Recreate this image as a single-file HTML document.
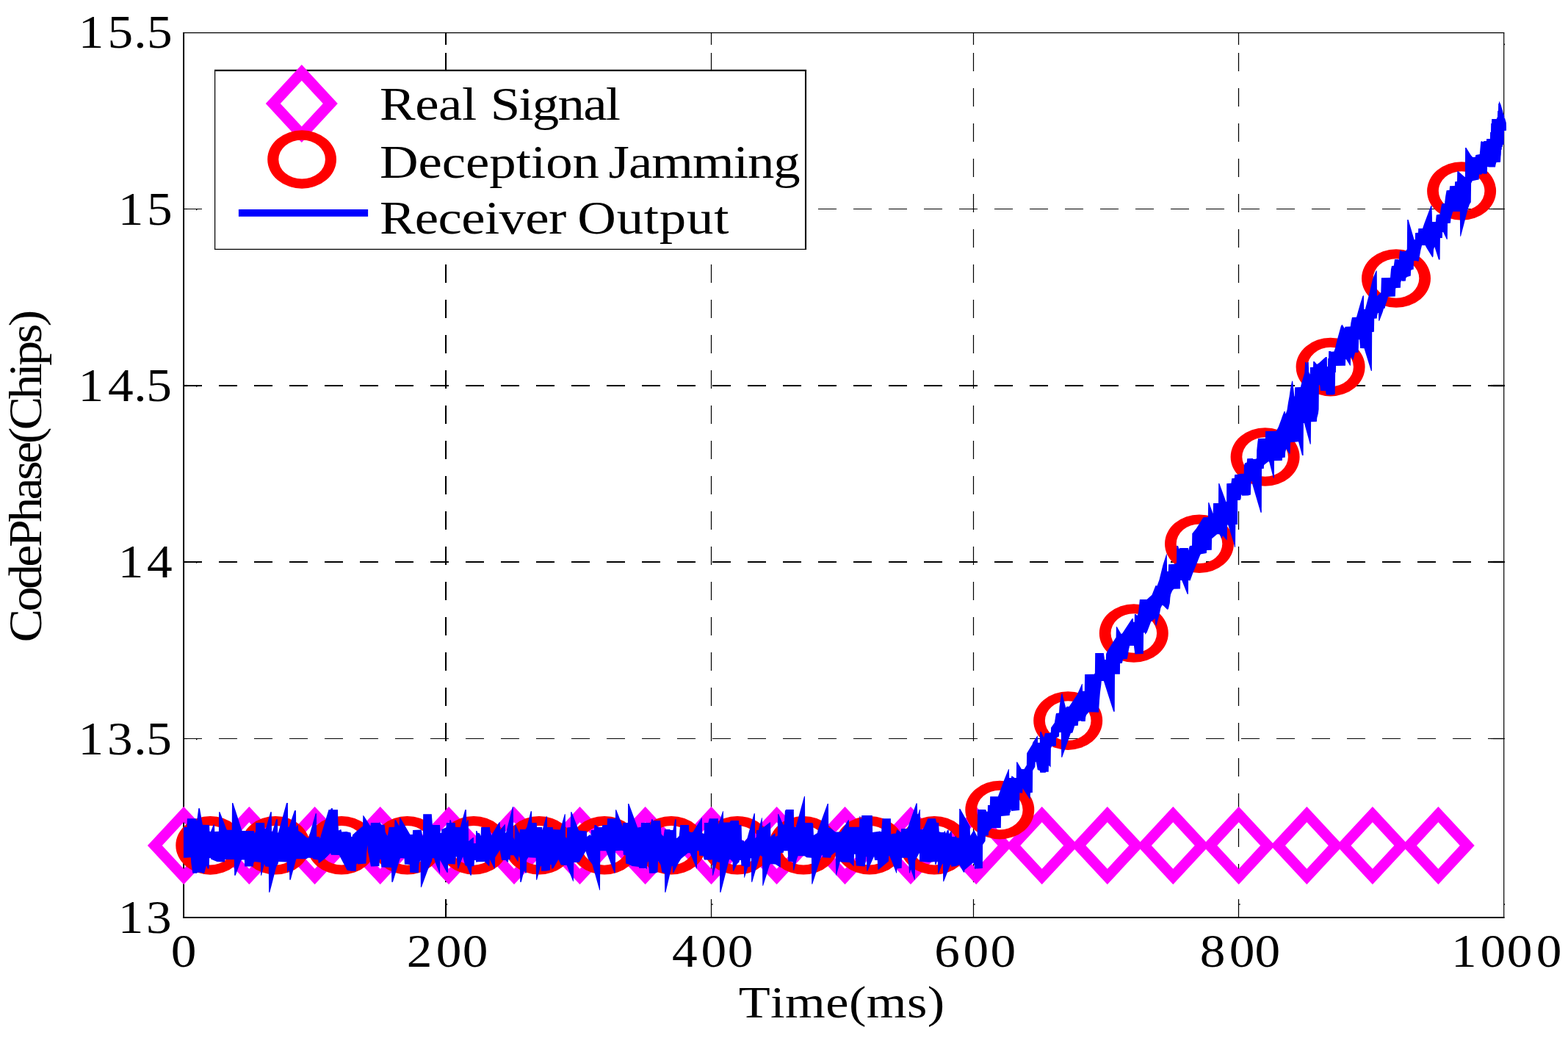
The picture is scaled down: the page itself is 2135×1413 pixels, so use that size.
<!DOCTYPE html>
<html lang="en"><head><meta charset="utf-8"><title>Code phase tracking under deception jamming</title>
<style>html,body{margin:0;padding:0;background:#fff}body{width:2135px;height:1413px;overflow:hidden}svg{display:block}text{font-family:"Liberation Serif",serif;fill:#000}</style></head><body>
<svg width="2135" height="1413" viewBox="0 0 2135 1413">
<rect width="2135" height="1413" fill="#fff"/>
<g stroke="#000" fill="none">
<path d="M607.05 44.55V61" stroke-width="2.1"/>
<path d="M607.05 72V1249.0" stroke-width="2.1" stroke-dasharray="25 23"/>
<path d="M968.5 44.55V61" stroke-width="1.2"/>
<path d="M968.5 72V1249.0" stroke-width="1.2" stroke-dasharray="25 23"/>
<path d="M1325.5 44.55V61" stroke-width="1.2"/>
<path d="M1325.5 72V1249.0" stroke-width="1.2" stroke-dasharray="25 23"/>
<path d="M1686.5 44.55V61" stroke-width="1.25"/>
<path d="M1686.5 72V1249.0" stroke-width="1.25" stroke-dasharray="25 23"/>
<path d="M250 284.5H2047.7" stroke-width="1.2" stroke-dasharray="25 23"/>
<path d="M2029.7 284.5H2048.9" stroke-width="1.2"/>
<path d="M250 525.0H2047.7" stroke-width="2.2" stroke-dasharray="25 23"/>
<path d="M2029.7 525.0H2048.9" stroke-width="2.2"/>
<path d="M250 765.0H2047.7" stroke-width="2.2" stroke-dasharray="25 23"/>
<path d="M2029.7 765.0H2048.9" stroke-width="2.2"/>
<path d="M250 1005.5H2047.7" stroke-width="1.2" stroke-dasharray="25 23"/>
<path d="M2029.7 1005.5H2048.9" stroke-width="1.2"/>
<rect x="607.75" y="1230.3" width="1.4" height="1.6" fill="#000" stroke="none"/>
<rect x="969.20" y="1230.3" width="1.4" height="1.6" fill="#000" stroke="none"/>
<rect x="1326.20" y="1230.3" width="1.4" height="1.6" fill="#000" stroke="none"/>
<rect x="1687.20" y="1230.3" width="1.4" height="1.6" fill="#000" stroke="none"/>
<rect x="267.0" y="284.90" width="1.4" height="1.3" fill="#000" stroke="none"/>
<rect x="267.0" y="525.40" width="1.4" height="1.3" fill="#000" stroke="none"/>
<rect x="267.0" y="765.40" width="1.4" height="1.3" fill="#000" stroke="none"/>
<rect x="267.0" y="1005.90" width="1.4" height="1.3" fill="#000" stroke="none"/>
<rect x="2047.9" y="1230.3" width="1.2" height="1.6" fill="#000" stroke="none"/>
<rect x="2047.9" y="59.6" width="1.2" height="1.6" fill="#000" stroke="none"/>
</g>
<g stroke="#000" fill="none">
<path d="M249.1 44.55H2048.3" stroke-width="1.2"/>
<path d="M2047.7 44.55V1250.0" stroke-width="1.2"/>
<path d="M250.1 43.949999999999996V1250.0" stroke-width="1.9"/>
<path d="M249.2 1249.0H2048.5" stroke-width="2.1"/>
</g>
<g fill="#f0f" fill-rule="evenodd">
<path d="M200.9 1151.0L250.2 1098.0L299.5 1151.0L250.2 1204.0ZM220.8 1151.0L250.2 1182.8L279.6 1151.0L250.2 1119.2Z"/>
<path d="M290.0 1151.0L339.3 1098.0L388.6 1151.0L339.3 1204.0ZM309.9 1151.0L339.3 1182.8L368.7 1151.0L339.3 1119.2Z"/>
<path d="M379.3 1151.0L428.6 1098.0L477.9 1151.0L428.6 1204.0ZM399.2 1151.0L428.6 1182.8L458.0 1151.0L428.6 1119.2Z"/>
<path d="M468.4 1151.0L517.7 1098.0L567.0 1151.0L517.7 1204.0ZM488.3 1151.0L517.7 1182.8L547.1 1151.0L517.7 1119.2Z"/>
<path d="M561.7 1151.0L611.0 1098.0L660.3 1151.0L611.0 1204.0ZM581.6 1151.0L611.0 1182.8L640.4 1151.0L611.0 1119.2Z"/>
<path d="M650.7 1151.0L700.0 1098.0L749.3 1151.0L700.0 1204.0ZM670.6 1151.0L700.0 1182.8L729.4 1151.0L700.0 1119.2Z"/>
<path d="M740.2 1151.0L789.5 1098.0L838.8 1151.0L789.5 1204.0ZM760.1 1151.0L789.5 1182.8L818.9 1151.0L789.5 1119.2Z"/>
<path d="M829.3 1151.0L878.6 1098.0L927.9 1151.0L878.6 1204.0ZM849.2 1151.0L878.6 1182.8L908.0 1151.0L878.6 1119.2Z"/>
<path d="M919.2 1151.0L968.5 1098.0L1017.8 1151.0L968.5 1204.0ZM939.1 1151.0L968.5 1182.8L997.9 1151.0L968.5 1119.2Z"/>
<path d="M1008.3 1151.0L1057.6 1098.0L1106.9 1151.0L1057.6 1204.0ZM1028.2 1151.0L1057.6 1182.8L1087.0 1151.0L1057.6 1119.2Z"/>
<path d="M1101.2 1151.0L1150.5 1098.0L1199.8 1151.0L1150.5 1204.0ZM1121.1 1151.0L1150.5 1182.8L1179.9 1151.0L1150.5 1119.2Z"/>
<path d="M1190.7 1151.0L1240.0 1098.0L1289.3 1151.0L1240.0 1204.0ZM1210.6 1151.0L1240.0 1182.8L1269.4 1151.0L1240.0 1119.2Z"/>
<path d="M1279.9 1151.0L1329.2 1098.0L1378.5 1151.0L1329.2 1204.0ZM1299.8 1151.0L1329.2 1182.8L1358.6 1151.0L1329.2 1119.2Z"/>
<path d="M1369.4 1151.0L1418.7 1098.0L1468.0 1151.0L1418.7 1204.0ZM1389.3 1151.0L1418.7 1182.8L1448.1 1151.0L1418.7 1119.2Z"/>
<path d="M1458.5 1151.0L1507.8 1098.0L1557.1 1151.0L1507.8 1204.0ZM1478.4 1151.0L1507.8 1182.8L1537.2 1151.0L1507.8 1119.2Z"/>
<path d="M1548.0 1151.0L1597.3 1098.0L1646.6 1151.0L1597.3 1204.0ZM1567.9 1151.0L1597.3 1182.8L1626.7 1151.0L1597.3 1119.2Z"/>
<path d="M1637.4 1151.0L1686.7 1098.0L1736.0 1151.0L1686.7 1204.0ZM1657.3 1151.0L1686.7 1182.8L1716.1 1151.0L1686.7 1119.2Z"/>
<path d="M1730.1 1151.0L1779.4 1098.0L1828.7 1151.0L1779.4 1204.0ZM1750.0 1151.0L1779.4 1182.8L1808.8 1151.0L1779.4 1119.2Z"/>
<path d="M1819.6 1151.0L1868.9 1098.0L1918.2 1151.0L1868.9 1204.0ZM1839.5 1151.0L1868.9 1182.8L1898.3 1151.0L1868.9 1119.2Z"/>
<path d="M1909.1 1151.0L1958.4 1098.0L2007.7 1151.0L1958.4 1204.0ZM1929.0 1151.0L1958.4 1182.8L1987.8 1151.0L1958.4 1119.2Z"/>
</g>
<g fill="#f00" fill-rule="evenodd">
<path d="M239.3 1150.8A47.0 39.8 0 1 1 333.3 1150.8A47.0 39.8 0 1 1 239.3 1150.8ZM255.0 1150.8A31.3 26.8 0 1 0 317.6 1150.8A31.3 26.8 0 1 0 255.0 1150.8Z"/>
<path d="M328.0 1150.8A47.0 39.8 0 1 1 422.0 1150.8A47.0 39.8 0 1 1 328.0 1150.8ZM343.7 1150.8A31.3 26.8 0 1 0 406.3 1150.8A31.3 26.8 0 1 0 343.7 1150.8Z"/>
<path d="M418.0 1150.8A47.0 39.8 0 1 1 512.0 1150.8A47.0 39.8 0 1 1 418.0 1150.8ZM433.7 1150.8A31.3 26.8 0 1 0 496.3 1150.8A31.3 26.8 0 1 0 433.7 1150.8Z"/>
<path d="M507.5 1150.8A47.0 39.8 0 1 1 601.5 1150.8A47.0 39.8 0 1 1 507.5 1150.8ZM523.2 1150.8A31.3 26.8 0 1 0 585.8 1150.8A31.3 26.8 0 1 0 523.2 1150.8Z"/>
<path d="M598.0 1150.8A47.0 39.8 0 1 1 692.0 1150.8A47.0 39.8 0 1 1 598.0 1150.8ZM613.7 1150.8A31.3 26.8 0 1 0 676.3 1150.8A31.3 26.8 0 1 0 613.7 1150.8Z"/>
<path d="M687.0 1150.8A47.0 39.8 0 1 1 781.0 1150.8A47.0 39.8 0 1 1 687.0 1150.8ZM702.7 1150.8A31.3 26.8 0 1 0 765.3 1150.8A31.3 26.8 0 1 0 702.7 1150.8Z"/>
<path d="M776.0 1150.8A47.0 39.8 0 1 1 870.0 1150.8A47.0 39.8 0 1 1 776.0 1150.8ZM791.7 1150.8A31.3 26.8 0 1 0 854.3 1150.8A31.3 26.8 0 1 0 791.7 1150.8Z"/>
<path d="M867.0 1150.8A47.0 39.8 0 1 1 961.0 1150.8A47.0 39.8 0 1 1 867.0 1150.8ZM882.7 1150.8A31.3 26.8 0 1 0 945.3 1150.8A31.3 26.8 0 1 0 882.7 1150.8Z"/>
<path d="M957.0 1150.8A47.0 39.8 0 1 1 1051.0 1150.8A47.0 39.8 0 1 1 957.0 1150.8ZM972.7 1150.8A31.3 26.8 0 1 0 1035.3 1150.8A31.3 26.8 0 1 0 972.7 1150.8Z"/>
<path d="M1047.0 1150.8A47.0 39.8 0 1 1 1141.0 1150.8A47.0 39.8 0 1 1 1047.0 1150.8ZM1062.7 1150.8A31.3 26.8 0 1 0 1125.3 1150.8A31.3 26.8 0 1 0 1062.7 1150.8Z"/>
<path d="M1137.0 1150.8A47.0 39.8 0 1 1 1231.0 1150.8A47.0 39.8 0 1 1 1137.0 1150.8ZM1152.7 1150.8A31.3 26.8 0 1 0 1215.3 1150.8A31.3 26.8 0 1 0 1152.7 1150.8Z"/>
<path d="M1225.5 1150.8A47.0 39.8 0 1 1 1319.5 1150.8A47.0 39.8 0 1 1 1225.5 1150.8ZM1241.2 1150.8A31.3 26.8 0 1 0 1303.8 1150.8A31.3 26.8 0 1 0 1241.2 1150.8Z"/>
<path d="M1314.3 1102.6A47.0 39.8 0 1 1 1408.3 1102.6A47.0 39.8 0 1 1 1314.3 1102.6ZM1330.0 1102.6A31.3 26.8 0 1 0 1392.6 1102.6A31.3 26.8 0 1 0 1330.0 1102.6Z"/>
<path d="M1407.2 981.1A47.0 39.8 0 1 1 1501.2 981.1A47.0 39.8 0 1 1 1407.2 981.1ZM1422.9 981.1A31.3 26.8 0 1 0 1485.5 981.1A31.3 26.8 0 1 0 1422.9 981.1Z"/>
<path d="M1496.8 862.0A47.0 39.8 0 1 1 1590.8 862.0A47.0 39.8 0 1 1 1496.8 862.0ZM1512.5 862.0A31.3 26.8 0 1 0 1575.1 862.0A31.3 26.8 0 1 0 1512.5 862.0Z"/>
<path d="M1586.0 740.2A47.0 39.8 0 1 1 1680.0 740.2A47.0 39.8 0 1 1 1586.0 740.2ZM1601.7 740.2A31.3 26.8 0 1 0 1664.3 740.2A31.3 26.8 0 1 0 1601.7 740.2Z"/>
<path d="M1675.6 622.0A47.0 39.8 0 1 1 1769.6 622.0A47.0 39.8 0 1 1 1675.6 622.0ZM1691.3 622.0A31.3 26.8 0 1 0 1753.9 622.0A31.3 26.8 0 1 0 1691.3 622.0Z"/>
<path d="M1764.6 499.6A47.0 39.8 0 1 1 1858.6 499.6A47.0 39.8 0 1 1 1764.6 499.6ZM1780.3 499.6A31.3 26.8 0 1 0 1842.9 499.6A31.3 26.8 0 1 0 1780.3 499.6Z"/>
<path d="M1854.0 379.0A47.0 39.8 0 1 1 1948.0 379.0A47.0 39.8 0 1 1 1854.0 379.0ZM1869.7 379.0A31.3 26.8 0 1 0 1932.3 379.0A31.3 26.8 0 1 0 1869.7 379.0Z"/>
<path d="M1943.1 260.0A47.0 39.8 0 1 1 2037.1 260.0A47.0 39.8 0 1 1 1943.1 260.0ZM1958.8 260.0A31.3 26.8 0 1 0 2021.4 260.0A31.3 26.8 0 1 0 1958.8 260.0Z"/>
</g>
<path fill="#00f" d="M249.9 1126.1L254.5 1126.1L254.9 1114.2L266.9 1114.2L268.1 1117.6L270.3 1100.3L271.9 1100.3L275.9 1122.8L285.1 1122.9L285.4 1131.5L286.8 1132.3L290.7 1122.4L292.0 1122.4L292.3 1132.0L297.9 1131.7L298.1 1105.3L299.4 1105.3L308.4 1128.7L309.3 1129.8L315.7 1129.8L316.0 1093.1L317.3 1093.1L329.2 1129.8L329.6 1131.0L346.0 1131.0L346.5 1134.5L348.0 1132.0L348.2 1120.1L360.1 1120.1L360.4 1127.5L361.8 1128.5L368.3 1105.3L369.8 1105.3L370.0 1132.0L370.8 1132.0L376.2 1115.2L377.9 1115.2L378.2 1133.5L378.9 1133.5L390.1 1093.1L391.9 1093.1L392.2 1125.8L393.5 1125.8L401.0 1103.3L403.0 1103.3L403.2 1126.6L404.4 1123.6L405.6 1123.1L406.4 1131.0L410.4 1133.5L418.3 1140.6L420.3 1140.6L429.7 1107.2L431.0 1107.2L431.2 1138.9L434.9 1138.9L435.6 1141.4L447.5 1102.3L450.0 1102.3L450.0 1102.3L450.9 1100.3L452.9 1100.3L453.1 1102.3L460.0 1102.3L460.3 1117.6L461.0 1130.5L464.3 1129.0L465.3 1132.5L471.7 1132.0L477.6 1133.5L478.1 1138.9L479.6 1138.9L480.1 1136.5L486.6 1130.5L494.0 1124.6L494.3 1109.7L495.5 1110.7L504.4 1124.6L504.9 1120.1L516.3 1120.1L517.3 1119.1L519.2 1122.6L523.7 1123.1L524.7 1132.5L527.2 1137.5L528.2 1135.5L529.6 1126.1L537.1 1125.8L537.4 1116.2L539.1 1116.2L543.5 1124.6L544.0 1113.2L545.2 1113.2L558.4 1136.0L561.8 1136.0L562.1 1130.0L573.7 1129.5L575.2 1137.5L575.9 1137.5L576.2 1108.2L587.8 1108.2L588.1 1112.7L588.9 1123.1L599.0 1123.1L599.7 1134.0L601.0 1134.0L601.3 1129.0L607.4 1126.6L607.9 1120.1L611.9 1120.1L612.4 1116.2L613.8 1116.2L614.8 1120.1L619.8 1120.1L620.3 1126.1L626.7 1126.1L633.2 1102.3L634.9 1102.3L635.3 1120.6L636.6 1116.2L637.8 1116.2L638.1 1144.9L644.1 1139.9L644.9 1139.9L645.1 1147.9L647.8 1147.9L648.0 1131.0L650.0 1131.5L650.0 1133.5L652.9 1134.3L654.7 1137.9L655.1 1126.1L666.9 1126.1L667.5 1130.5L669.2 1137.5L669.7 1136.0L679.6 1119.6L680.6 1119.1L681.1 1129.5L687.4 1122.1L688.0 1122.6L688.3 1134.0L689.0 1133.5L697.9 1098.3L698.9 1098.3L699.1 1139.4L700.4 1142.9L700.7 1123.6L702.4 1123.1L707.4 1134.5L707.9 1129.0L715.3 1129.0L717.3 1126.1L722.7 1104.3L724.0 1104.3L724.2 1120.1L730.6 1120.1L731.1 1126.1L738.1 1126.1L738.6 1130.0L739.1 1127.5L743.8 1111.2L744.8 1111.2L745.2 1126.1L752.7 1126.1L753.1 1129.0L762.8 1129.5L768.8 1108.2L769.8 1108.2L770.1 1139.4L771.7 1140.9L772.2 1126.6L776.7 1126.1L777.2 1105.3L778.4 1105.3L788.1 1130.5L799.0 1131.5L799.2 1138.9L803.4 1136.0L804.4 1137.9L804.9 1130.0L808.9 1130.0L809.4 1123.1L811.4 1123.1L814.3 1126.1L819.8 1126.1L820.3 1123.1L826.7 1123.1L827.0 1114.2L837.9 1114.2L838.1 1102.3L839.1 1102.3L846.5 1121.1L847.5 1125.1L848.0 1120.1L850.0 1120.1L850.0 1120.1L854.9 1120.1L855.1 1094.1L856.3 1094.1L868.2 1126.6L872.7 1125.8L873.0 1120.1L885.1 1120.1L885.6 1123.6L887.1 1115.2L888.7 1115.2L889.0 1117.1L899.1 1117.1L899.9 1126.6L900.6 1135.5L903.4 1138.4L904.9 1129.0L911.8 1129.0L913.3 1130.0L916.3 1130.0L919.2 1115.2L920.7 1115.2L921.0 1140.9L922.2 1140.4L924.7 1137.9L926.2 1123.1L937.9 1123.1L938.3 1132.0L941.0 1133.0L943.5 1132.5L955.4 1113.2L955.9 1113.2L956.1 1134.5L958.7 1134.7L958.9 1120.1L964.3 1120.1L965.8 1114.2L977.9 1114.2L978.2 1122.6L984.1 1104.3L984.9 1104.3L985.1 1119.6L993.5 1119.6L995.0 1117.1L1005.9 1117.1L1006.4 1123.1L1009.6 1123.1L1010.1 1143.9L1012.9 1144.2L1013.4 1145.9L1017.3 1141.4L1026.7 1107.2L1027.9 1107.2L1028.2 1140.9L1029.7 1139.4L1030.0 1130.0L1032.7 1130.0L1037.1 1113.2L1037.8 1113.2L1038.1 1126.6L1041.1 1125.1L1048.5 1119.1L1049.0 1120.1L1049.5 1139.4L1050.0 1139.4L1050.0 1138.2L1055.4 1134.0L1055.8 1138.9L1058.8 1137.5L1059.0 1108.2L1060.3 1108.2L1066.3 1122.6L1067.7 1122.6L1068.9 1103.8L1070.2 1102.0L1080.8 1102.0L1081.1 1125.8L1083.6 1125.8L1095.0 1084.0L1096.0 1084.0L1096.2 1120.1L1105.9 1120.1L1107.2 1121.6L1107.9 1137.0L1112.8 1134.0L1113.8 1129.5L1126.7 1094.1L1127.9 1094.1L1128.2 1126.6L1130.6 1127.1L1137.6 1132.5L1145.0 1132.5L1154.9 1116.2L1155.9 1116.2L1156.1 1125.8L1170.0 1125.8L1170.3 1111.2L1171.3 1111.2L1171.7 1114.7L1172.9 1114.7L1173.2 1109.9L1187.8 1109.9L1188.1 1133.0L1198.5 1131.5L1200.0 1132.5L1201.5 1114.2L1212.9 1114.2L1213.2 1136.0L1214.3 1135.0L1219.8 1134.5L1221.3 1129.0L1226.7 1133.0L1227.2 1128.0L1235.6 1128.0L1247.5 1093.4L1248.8 1093.4L1249.2 1108.2L1250.0 1108.2L1250.0 1108.4L1252.1 1102.0L1252.9 1102.0L1253.2 1129.0L1256.3 1129.0L1257.8 1126.8L1263.3 1114.2L1273.9 1114.2L1275.2 1119.8L1278.1 1120.1L1278.8 1132.2L1281.6 1133.0L1285.1 1133.0L1286.6 1130.7L1288.0 1134.7L1289.5 1130.7L1291.5 1129.2L1292.3 1135.2L1295.0 1131.2L1295.7 1131.2L1296.1 1138.7L1299.4 1139.2L1301.4 1138.0L1303.2 1140.6L1305.9 1140.6L1306.2 1101.0L1307.4 1101.0L1320.7 1124.8L1321.0 1137.7L1326.2 1129.7L1330.6 1138.7L1331.1 1102.0L1342.0 1102.0L1343.5 1105.0L1344.8 1104.5L1345.0 1096.1L1347.8 1096.1L1348.2 1084.2L1358.9 1084.2L1366.7 1062.9L1373.2 1047.1L1373.9 1047.1L1374.2 1059.0L1376.8 1059.0L1377.6 1056.0L1381.6 1059.0L1383.8 1059.0L1384.1 1037.2L1385.1 1037.2L1391.0 1046.9L1394.5 1046.9L1397.9 1041.6L1398.2 1025.3L1405.4 1013.4L1406.4 1010.4L1412.8 1001.0L1413.1 1010.9L1415.8 1010.9L1416.1 996.1L1417.8 996.1L1421.2 1004.0L1423.0 998.0L1429.6 998.0L1430.9 996.6L1431.1 990.6L1435.9 983.7L1437.6 972.8L1438.1 971.0L1442.0 970.6L1442.5 961.9L1444.9 945.9L1446.3 942.9L1446.8 945.9L1451.3 963.7L1452.3 961.7L1455.8 961.7L1466.7 945.4L1473.1 931.0L1473.8 931.0L1474.1 940.7L1476.8 940.7L1477.1 918.0L1489.9 917.7L1490.9 916.2L1491.2 889.1L1502.8 889.1L1504.1 897.9L1505.8 897.9L1506.1 889.9L1507.3 887.5L1509.2 884.0L1519.6 867.6L1519.9 853.0L1520.9 853.3L1526.6 862.9L1528.1 862.2L1541.4 842.1L1542.9 842.1L1543.1 846.8L1544.7 846.8L1544.9 835.9L1546.4 835.9L1548.4 837.9L1549.9 834.5L1550.2 832.7L1551.2 822.8L1551.9 816.1L1561.6 815.9L1568.5 809.8L1573.5 797.1L1575.5 797.6L1578.4 789.6L1583.4 769.3L1588.4 753.5L1588.8 755.5L1589.1 777.8L1590.8 777.8L1591.1 768.2L1598.3 767.9L1602.0 766.6L1602.2 743.1L1604.0 743.1L1605.4 747.5L1606.2 746.1L1617.9 746.1L1618.3 749.5L1619.1 745.6L1620.0 743.1L1623.0 742.8L1623.3 726.3L1629.0 719.3L1638.4 704.2L1644.8 704.0L1645.2 683.9L1646.2 683.9L1651.6 699.3L1652.1 685.1L1659.0 684.9L1659.2 658.0L1660.3 658.0L1669.4 682.9L1670.1 682.9L1670.2 658.2L1676.4 657.7L1677.2 651.2L1680.8 651.0L1681.1 646.3L1685.8 645.8L1688.3 645.1L1693.7 644.8L1694.0 633.4L1695.0 630.4L1697.7 629.4L1698.2 624.3L1705.6 624.0L1706.6 625.0L1710.0 624.7L1711.0 624.0L1711.2 613.1L1712.5 600.7L1713.2 596.9L1722.9 596.7L1723.1 587.0L1737.8 586.8L1740.8 580.9L1744.7 570.5L1745.6 567.8L1748.5 559.9L1749.7 559.9L1750.5 563.8L1752.5 557.9L1754.0 548.0L1755.5 540.0L1757.0 529.2L1759.2 518.3L1760.2 519.2L1762.4 539.6L1762.9 539.6L1763.2 527.2L1770.8 527.0L1772.8 519.2L1776.3 507.4L1777.1 493.0L1778.8 493.0L1779.2 497.0L1780.0 493.0L1781.7 493.0L1782.2 506.4L1783.7 509.8L1784.0 499.9L1788.0 499.7L1788.2 492.0L1789.6 492.0L1793.1 496.0L1796.1 494.0L1803.0 487.7L1805.0 486.1L1806.8 486.1L1807.0 498.9L1808.0 498.9L1808.2 488.0L1809.0 487.5L1809.2 478.1L1811.4 478.1L1812.9 478.8L1816.4 478.6L1817.9 474.2L1820.4 463.8L1822.8 454.9L1825.8 444.0L1827.3 441.8L1828.3 443.0L1830.8 446.9L1831.6 444.8L1838.7 444.5L1839.5 438.8L1841.0 432.0L1847.0 431.8L1849.4 422.9L1852.4 412.5L1855.4 403.1L1856.9 402.1L1857.2 420.9L1858.8 420.9L1863.3 404.1L1869.2 379.3L1873.7 368.6L1874.7 368.4L1875.0 403.1L1880.3 398.2L1880.9 378.2L1893.0 378.0L1894.0 366.5L1895.0 362.0L1897.8 361.8L1899.0 353.1L1902.9 352.9L1904.9 353.6L1905.4 346.7L1906.1 341.2L1907.9 341.2L1908.9 342.2L1913.8 341.9L1915.8 339.2L1916.2 299.0L1917.6 299.0L1925.6 326.2L1926.8 326.2L1927.1 317.0L1931.0 316.8L1931.3 311.1L1937.0 310.9L1939.4 303.9L1948.4 280.1L1949.5 280.1L1950.1 301.9L1954.8 301.9L1955.8 292.5L1960.7 291.5L1961.7 285.1L1963.2 277.2L1967.0 277.0L1968.2 267.3L1969.6 259.3L1973.6 258.8L1974.1 253.2L1980.8 252.9L1981.2 247.2L1984.0 247.0L1984.3 233.1L1985.5 233.1L1994.4 241.0L1994.9 240.5L1995.1 201.1L1996.4 201.1L2002.8 211.3L2005.3 214.0L2008.8 213.8L2009.3 211.0L2014.7 210.0L2015.2 204.9L2016.2 193.5L2016.3 193.1L2017.2 192.1L2018.3 192.8L2019.7 192.9L2020.4 192.1L2023.9 191.9L2024.2 189.1L2028.9 189.0L2029.1 180.0L2030.0 179.7L2030.2 168.2L2031.0 167.7L2031.2 162.1L2037.7 162.0L2038.4 159.9L2039.0 159.5L2039.2 151.0L2040.0 150.7L2040.2 141.1L2040.9 140.8L2041.1 138.2L2041.8 138.2L2042.0 139.7L2042.8 140.4L2043.8 143.3L2044.8 147.1L2045.9 150.3L2046.8 154.2L2048.0 156.7L2048.4 160.9L2049.1 161.1L2049.9 164.1L2050.8 167.0L2051.0 172.3L2051.0 177.8L2048.0 177.9L2047.6 196.7L2046.1 197.0L2045.9 199.7L2044.8 200.0L2044.7 203.8L2044.0 204.1L2043.8 210.0L2043.4 213.3L2043.0 220.7L2037.5 220.9L2036.5 224.2L2036.0 227.6L2027.6 227.6L2025.1 227.1L2024.8 236.6L2020.7 236.8L2018.7 236.1L2016.7 237.7L2014.0 237.4L2013.7 244.5L2010.8 245.0L2004.8 246.3L2003.1 249.4L2002.8 275.2L2000.9 278.2L1998.9 284.1L1995.9 295.0L1993.9 302.9L1989.0 321.7L1988.2 321.7L1987.8 287.9L1979.1 287.9L1978.1 288.6L1975.6 297.0L1974.9 303.7L1971.1 303.9L1970.8 325.7L1969.8 325.7L1965.1 316.1L1964.1 316.1L1963.8 323.9L1960.9 324.1L1960.6 353.6L1958.9 353.6L1953.9 337.7L1953.2 336.0L1952.0 339.7L1951.5 349.1L1950.5 350.6L1942.6 337.7L1940.6 334.0L1936.1 334.0L1934.6 339.7L1933.1 348.1L1931.7 355.8L1929.7 355.8L1928.7 355.1L1925.0 355.1L1924.7 366.7L1922.2 367.0L1921.1 368.4L1920.8 375.6L1915.8 376.9L1914.3 378.4L1913.8 382.6L1909.4 382.8L1908.4 381.8L1907.2 384.3L1906.9 391.7L1900.9 392.0L1900.2 392.7L1899.8 403.6L1890.0 403.9L1889.1 408.1L1886.6 415.0L1885.6 419.8L1884.1 420.0L1882.6 424.9L1878.2 436.8L1877.2 436.8L1877.0 425.9L1876.2 425.9L1875.2 428.9L1874.7 433.6L1871.2 433.8L1870.9 451.7L1868.2 451.9L1867.9 504.9L1866.9 504.9L1857.5 474.2L1852.1 473.9L1851.1 462.3L1850.1 462.3L1849.6 479.8L1845.1 480.1L1842.6 489.5L1841.2 489.5L1840.7 487.1L1839.2 486.1L1838.9 497.7L1838.2 497.7L1833.2 489.5L1832.2 489.0L1831.9 497.7L1819.1 497.9L1818.9 506.6L1818.1 507.4L1817.7 536.6L1814.9 537.6L1806.5 537.6L1805.5 536.1L1805.0 532.1L1798.1 531.9L1797.1 524.2L1795.9 524.2L1795.6 556.9L1794.9 562.8L1793.3 568.8L1792.8 574.0L1785.1 574.2L1784.8 604.7L1783.8 604.7L1775.9 576.1L1774.9 576.1L1774.6 620.0L1773.0 620.0L1768.0 601.2L1762.6 601.7L1757.1 602.2L1756.6 617.7L1755.4 617.7L1752.6 613.1L1751.5 611.1L1750.2 615.1L1749.7 622.7L1746.2 623.0L1745.7 627.0L1735.0 627.3L1734.8 650.7L1733.8 650.7L1728.4 629.4L1727.4 627.9L1721.1 632.9L1720.7 637.9L1718.0 638.2L1717.8 697.8L1716.5 697.8L1705.3 659.6L1704.9 655.2L1703.9 655.2L1703.3 661.1L1702.9 673.5L1699.6 674.5L1691.2 674.8L1690.0 673.0L1689.7 678.5L1688.8 680.7L1685.1 680.9L1684.9 713.9L1682.3 714.1L1682.0 744.8L1681.0 744.8L1680.5 741.6L1672.1 714.4L1671.1 714.4L1670.6 735.7L1665.1 729.2L1663.4 733.2L1660.7 727.2L1657.2 727.2L1650.1 733.2L1649.8 748.7L1643.1 749.0L1642.8 753.0L1635.4 754.3L1634.4 755.0L1629.0 768.4L1624.0 780.7L1620.5 790.6L1618.1 790.1L1617.9 808.8L1616.6 808.8L1609.2 790.1L1607.2 790.1L1607.0 801.5L1598.3 801.8L1596.3 804.0L1594.1 809.0L1593.3 813.9L1592.8 820.9L1590.8 829.3L1589.3 829.8L1584.4 824.8L1582.4 823.8L1580.4 827.8L1578.6 836.9L1574.1 852.8L1573.1 849.3L1572.6 841.9L1568.2 845.8L1567.2 846.3L1561.7 860.7L1559.3 863.7L1558.8 861.2L1557.1 861.2L1556.8 889.9L1545.4 890.6L1544.9 887.0L1543.9 879.0L1538.2 879.0L1537.0 884.0L1536.0 890.4L1534.8 896.9L1529.1 897.4L1527.9 902.8L1525.1 903.1L1524.9 917.7L1518.0 917.7L1517.7 968.7L1516.2 968.7L1502.8 927.1L1499.8 927.1L1499.3 932.5L1497.9 942.9L1497.0 953.8L1496.3 964.4L1496.0 969.8L1490.6 969.6L1482.6 969.3L1479.2 973.3L1478.2 976.3L1477.7 981.9L1472.7 981.9L1471.7 981.2L1468.3 981.7L1467.8 987.8L1463.3 988.1L1460.4 997.5L1457.9 998.0L1453.9 1009.4L1446.2 1031.0L1445.2 1031.0L1444.8 997.1L1442.2 997.1L1442.0 1002.5L1438.1 1004.5L1437.9 1015.6L1432.1 1015.9L1430.9 1018.4L1430.6 1044.6L1428.0 1042.1L1427.7 1050.8L1424.2 1050.8L1423.7 1051.8L1416.3 1051.8L1415.8 1049.1L1412.8 1048.1L1410.8 1037.2L1409.8 1037.2L1409.3 1044.1L1406.2 1049.1L1405.9 1078.9L1403.0 1079.2L1402.5 1088.6L1392.6 1073.3L1392.1 1079.7L1388.3 1079.2L1388.1 1103.0L1377.2 1104.0L1376.5 1101.5L1376.2 1104.5L1374.9 1106.9L1374.7 1109.9L1363.1 1110.9L1362.8 1126.9L1350.5 1127.2L1349.0 1128.7L1346.2 1132.2L1345.8 1137.4L1342.0 1137.6L1341.5 1145.1L1338.1 1150.0L1337.9 1182.0L1327.0 1182.7L1326.7 1178.3L1325.2 1174.3L1313.5 1184.2L1313.1 1187.7L1311.8 1187.2L1306.4 1177.3L1301.4 1179.2L1295.3 1179.7L1295.0 1177.3L1294.0 1177.3L1285.1 1200.0L1284.2 1200.0L1283.9 1176.1L1283.1 1176.1L1277.9 1189.0L1277.1 1189.0L1276.8 1173.1L1275.7 1173.1L1274.7 1176.8L1273.2 1176.8L1272.7 1173.1L1264.8 1173.8L1252.1 1172.8L1251.9 1160.9L1250.0 1164.2L1250.0 1164.2L1246.2 1172.1L1245.8 1197.7L1245.1 1197.7L1240.1 1183.5L1238.9 1188.5L1238.1 1188.5L1237.1 1175.1L1235.6 1167.7L1228.0 1167.7L1227.7 1181.8L1221.3 1182.5L1221.1 1188.5L1220.3 1188.5L1215.3 1175.1L1211.2 1165.2L1210.2 1165.2L1209.9 1172.6L1196.5 1183.8L1195.3 1183.8L1194.7 1171.1L1191.1 1171.1L1190.1 1165.7L1181.2 1185.8L1180.2 1185.8L1179.9 1166.2L1179.2 1166.2L1178.7 1173.1L1177.7 1179.6L1170.8 1179.1L1165.8 1178.6L1165.0 1170.1L1164.6 1162.7L1163.0 1162.7L1162.6 1179.6L1156.9 1174.1L1145.0 1173.6L1144.0 1172.6L1138.9 1191.4L1138.1 1191.4L1137.6 1160.0L1132.1 1164.2L1131.1 1167.7L1120.2 1167.2L1119.7 1163.7L1118.8 1164.2L1115.3 1175.1L1106.2 1203.6L1105.2 1203.6L1104.9 1167.7L1098.4 1167.2L1095.5 1165.2L1086.6 1165.2L1085.1 1169.2L1081.1 1184.8L1080.1 1184.8L1079.6 1173.1L1073.2 1172.6L1072.7 1158.3L1067.2 1158.3L1066.7 1160.7L1063.1 1161.2L1062.8 1181.0L1055.8 1176.6L1050.0 1176.2L1050.0 1175.6L1048.0 1177.6L1039.1 1205.8L1038.3 1205.8L1037.9 1166.2L1035.3 1164.2L1034.2 1166.2L1024.2 1200.7L1023.1 1200.7L1022.8 1168.2L1021.8 1168.2L1021.3 1179.6L1018.3 1180.5L1013.8 1194.7L1013.2 1194.7L1012.9 1179.1L1009.4 1178.6L1008.9 1170.9L1006.9 1170.9L1006.4 1173.6L1003.4 1176.6L999.0 1185.8L998.0 1185.8L997.5 1173.1L994.5 1170.1L993.0 1170.1L991.6 1175.1L981.5 1214.7L980.2 1214.7L979.9 1173.9L977.2 1173.6L976.2 1173.1L971.0 1191.7L970.1 1191.7L969.8 1170.1L968.3 1170.6L958.9 1170.6L957.4 1165.0L952.1 1164.7L951.7 1158.3L949.2 1158.3L949.0 1182.5L948.5 1182.5L939.6 1161.2L936.6 1161.2L927.2 1169.2L924.2 1174.1L917.3 1188.0L916.1 1188.0L915.8 1179.1L914.8 1179.1L906.4 1214.7L905.2 1214.7L904.9 1188.8L901.4 1187.5L899.4 1177.1L896.0 1172.1L895.5 1187.5L891.5 1188.8L884.1 1188.8L882.8 1173.1L882.1 1173.1L881.1 1178.1L880.8 1182.8L879.6 1182.8L879.1 1182.0L870.2 1181.8L869.7 1180.0L860.8 1179.1L855.8 1176.6L852.1 1175.6L851.7 1164.0L850.0 1163.8L850.0 1163.7L848.8 1163.7L848.5 1158.3L846.5 1157.8L838.1 1158.3L837.8 1188.5L836.6 1188.5L825.2 1158.3L817.3 1158.3L817.0 1211.7L816.3 1211.7L806.4 1176.6L801.0 1169.6L797.5 1158.8L788.6 1173.9L781.2 1174.1L780.9 1199.7L780.2 1199.7L771.7 1178.1L763.8 1177.6L760.4 1170.1L753.4 1182.0L751.1 1182.8L750.7 1177.1L749.3 1177.1L749.0 1184.5L744.0 1185.5L737.1 1185.8L736.9 1179.1L736.1 1179.1L731.1 1197.7L730.1 1197.7L729.6 1167.7L719.2 1167.2L717.1 1171.1L716.8 1188.5L715.3 1188.5L714.8 1186.0L713.3 1186.5L709.8 1200.7L708.2 1200.7L707.9 1168.2L706.2 1165.2L705.4 1173.6L699.4 1164.2L695.1 1164.2L694.7 1170.1L692.3 1170.1L692.0 1173.6L690.5 1173.6L688.5 1170.9L683.1 1171.1L680.6 1157.3L674.2 1167.2L673.9 1182.5L673.2 1182.5L666.9 1170.1L666.3 1179.6L659.8 1173.1L650.0 1173.3L650.0 1173.6L648.0 1173.6L647.8 1171.1L646.0 1171.1L645.5 1179.1L642.3 1179.6L641.9 1191.7L640.6 1191.7L635.6 1179.1L633.2 1178.1L630.2 1166.2L624.4 1182.0L623.3 1183.0L622.3 1173.1L621.8 1166.2L620.8 1166.2L619.8 1176.6L610.2 1176.1L609.9 1187.8L608.4 1187.8L599.3 1171.1L599.0 1190.0L592.6 1174.1L591.1 1168.2L588.6 1168.2L588.1 1172.1L582.6 1184.0L573.9 1207.8L572.9 1207.8L572.5 1171.1L570.6 1175.6L570.0 1188.2L558.2 1187.8L557.9 1176.9L550.9 1176.6L550.5 1168.2L545.0 1168.2L544.0 1171.1L534.9 1200.7L533.3 1200.7L532.9 1181.0L519.2 1180.5L518.8 1170.1L517.1 1170.1L516.3 1179.1L504.9 1179.6L503.4 1171.1L500.9 1159.2L500.4 1150.3L499.4 1159.2L498.4 1175.6L487.1 1176.6L486.4 1175.1L485.2 1177.1L484.9 1185.8L478.6 1185.8L472.7 1184.8L461.8 1164.0L450.9 1163.7L450.0 1161.2L450.0 1161.2L442.1 1169.2L435.1 1174.6L433.7 1174.9L433.2 1170.6L426.2 1169.6L425.2 1167.7L419.3 1167.7L417.3 1169.2L403.4 1169.2L402.5 1172.6L395.7 1197.7L394.3 1197.7L394.0 1185.5L392.6 1185.0L391.1 1188.0L390.6 1173.6L379.2 1173.1L378.7 1175.6L376.2 1180.0L367.3 1214.7L366.1 1214.7L365.8 1180.0L361.3 1179.6L359.9 1176.1L356.1 1191.7L355.1 1191.7L354.9 1174.1L346.5 1173.1L345.2 1175.1L344.8 1179.6L333.1 1179.6L332.9 1170.6L329.2 1170.6L328.2 1171.6L320.7 1191.7L319.2 1191.7L318.8 1170.1L306.4 1170.1L305.9 1173.6L295.5 1173.1L287.1 1169.6L286.6 1167.7L285.1 1168.2L284.6 1182.5L282.6 1182.5L281.1 1178.1L278.1 1188.8L276.2 1188.8L274.2 1187.8L268.7 1187.8L268.2 1188.8L262.3 1188.8L260.3 1175.1L259.8 1167.2L249.9 1167.7Z"/>
<rect x="292.6" y="95.8" width="804.4" height="243.6" fill="#fff"/>
<g stroke="#000" fill="none">
<path d="M292 95.8H1098.05" stroke-width="2.15"/>
<path d="M1097 95V340" stroke-width="2.1"/>
<path d="M292 339.4H1098" stroke-width="1.15"/>
<path d="M292.6 95V340" stroke-width="1.25"/>
</g>
<path fill="#f0f" fill-rule="evenodd" d="M361.8 141.0L410.8 88.0L459.8 141.0L410.8 194.0ZM381.8 141.0L410.8 172.3L439.8 141.0L410.8 109.7Z"/>
<path fill="#f00" fill-rule="evenodd" d="M364.2 217.0A46.9 39.6 0 1 1 458.0 217.0A46.9 39.6 0 1 1 364.2 217.0ZM379.3 217.0A31.8 26.6 0 1 0 442.9 217.0A31.8 26.6 0 1 0 379.3 217.0Z"/>
<rect x="324.9" y="285" width="176.2" height="9.8" fill="#00f"/>
<g>
<text transform="translate(516.90,163.00) scale(1.16,1)" font-size="62.8" x="0.00 41.59 69.16 96.74 113.89 129.94 163.34 179.26 209.14 239.01 265.36">Real Signal</text>
<text transform="translate(516.90,241.70) scale(1.16,1)" font-size="62.8" x="0.00 45.32 73.17 101.02 128.86 160.23 177.65 195.07 226.45 257.82 268.68 292.27 319.30 367.31 415.31 431.91 462.47">Deception Jamming</text>
<text transform="translate(516.90,318.00) scale(1.16,1)" font-size="62.8" x="0.00 41.34 68.68 96.01 123.34 140.24 171.10 198.43 218.80 232.25 278.25 310.30 328.39 360.44 392.49">Receiver Output</text>
<text transform="translate(106.66,65.30) scale(1.1,1)" font-size="63.0" x="0.00 36.28 68.71 84.82">15.5</text>
<text transform="translate(160.76,305.70) scale(1.1,1)" font-size="63.0" x="0.00 35.64">15</text>
<text transform="translate(106.56,545.70) scale(1.1,1)" font-size="63.0" x="0.00 36.80 68.89 84.37">14.5</text>
<text transform="translate(160.76,785.70) scale(1.1,1)" font-size="63.0" x="0.00 35.62">14</text>
<text transform="translate(106.56,1026.80) scale(1.1,1)" font-size="63.0" x="0.00 35.87 68.89 84.37">13.5</text>
<text transform="translate(160.76,1269.70) scale(1.1,1)" font-size="63.0" x="0.00 34.69">13</text>
<text transform="translate(232.68,1315.60) scale(1.1,1)" font-size="63.0" x="0.00">0</text>
<text transform="translate(553.76,1315.60) scale(1.1,1)" font-size="63.0" x="0.00 36.28 69.10">200</text>
<text transform="translate(915.04,1315.60) scale(1.1,1)" font-size="63.0" x="0.00 35.94 68.76">400</text>
<text transform="translate(1272.27,1315.60) scale(1.1,1)" font-size="63.0" x="0.00 35.64 69.28">600</text>
<text transform="translate(1633.72,1315.60) scale(1.1,1)" font-size="63.0" x="0.00 36.32 67.95">800</text>
<text transform="translate(1975.96,1315.60) scale(1.1,1)" font-size="63.0" x="0.00 36.01 68.83 105.38">1000</text>
<text transform="translate(1005.63,1385.30) scale(1.13,1)" font-size="62.3" x="0.00 38.43 56.11 104.94 132.97 154.09 202.92 227.54">Time(ms)</text>
<text transform="translate(56.10,874.29) rotate(-90) scale(1.08,1.015)" font-size="63.0" x="0.00 38.69 66.85 95.02 119.65 151.35 179.52 204.15 225.33 249.96 267.61 306.30 334.46 348.63 376.80 397.98">CodePhase(Chips)</text>
</g>
</svg></body></html>
